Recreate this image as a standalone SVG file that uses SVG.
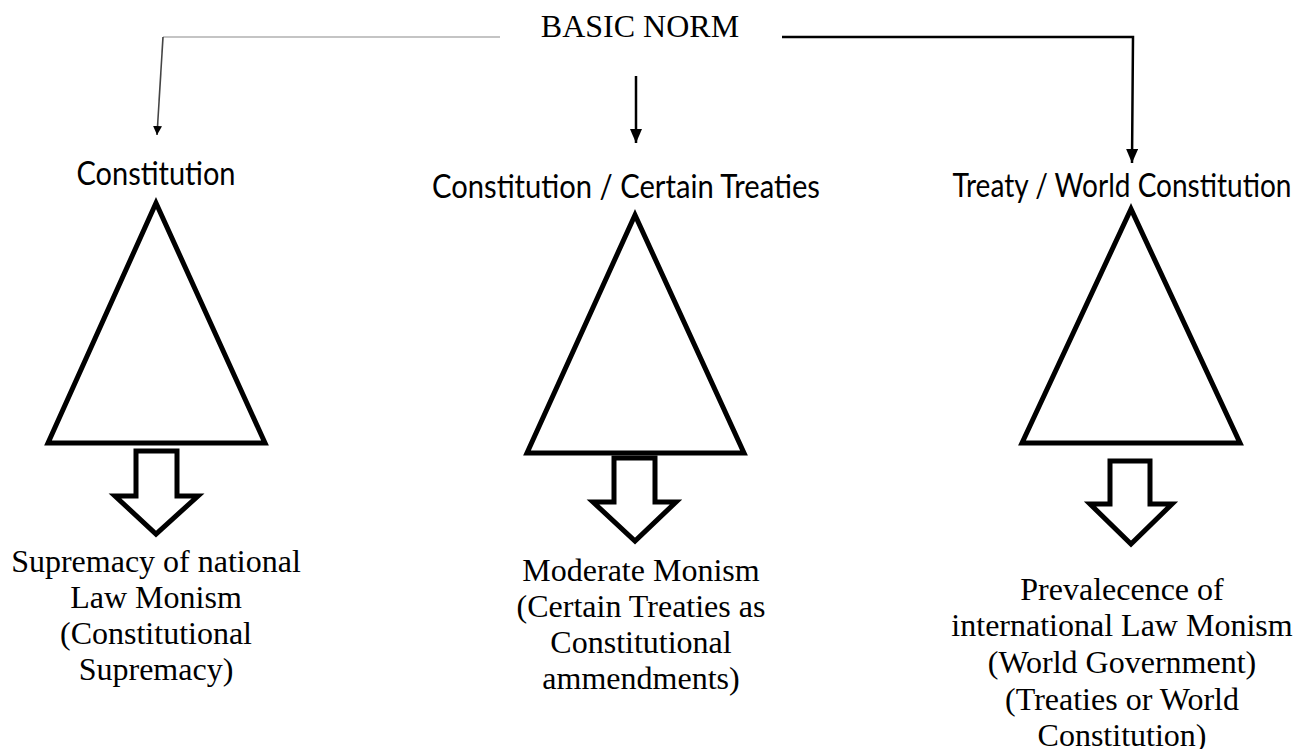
<svg xmlns="http://www.w3.org/2000/svg" width="1306" height="749" viewBox="0 0 1306 749">
<style>
.serif{font-family:"Liberation Serif","Times New Roman",serif;font-size:32px;fill:#000;text-anchor:middle}
.sans{font-family:Lato,"Liberation Sans",sans-serif;font-size:32px;fill:#000;text-anchor:middle}
.tri{fill:#fff;stroke:#000;stroke-width:5;stroke-linejoin:miter}
.blk{fill:#fff;stroke:#000;stroke-width:5;stroke-linejoin:miter}
.con{fill:none;stroke:#000;stroke-width:2.5}
</style>
<defs>
<marker id="ah" viewBox="0 0 14 12" refX="14" refY="6" markerWidth="14" markerHeight="12" orient="auto" markerUnits="userSpaceOnUse"><path d="M0,0 L14,6 L0,12 z" fill="#000"/></marker>
<marker id="ahs" viewBox="0 0 9 9" refX="9" refY="4.5" markerWidth="9" markerHeight="9" orient="auto" markerUnits="userSpaceOnUse"><path d="M0,0 L9,4.5 L0,9 z" fill="#000"/></marker>
</defs>
<rect width="1306" height="749" fill="#fff"/>
<g id="connectors">
<line x1="500" y1="37" x2="163" y2="37" stroke="#c4c4c4" stroke-width="2"/>
<line x1="163" y1="37" x2="157" y2="135" stroke="#444" stroke-width="1.6" marker-end="url(#ahs)"/>
<line x1="636" y1="76" x2="636" y2="143" class="con" marker-end="url(#ah)"/>
<polyline points="782,37 1133,37 1132,163" class="con" marker-end="url(#ah)"/>
</g>
<g id="basic-norm"><text x="640" y="37" class="serif">BASIC NORM</text></g>
<g id="col-left">
<text x="156" y="185" class="sans" textLength="159" lengthAdjust="spacingAndGlyphs">Constitution</text>
<polygon class="tri" points="156,203 48,443 265,443"/>
<polygon class="blk" points="136,451 177,451 177,496 198,496 156,534 115,496 136,496"/>
<text class="serif" x="156" y="572">Supremacy of national</text>
<text class="serif" x="156" y="608">Law Monism</text>
<text class="serif" x="156" y="644">(Constitutional</text>
<text class="serif" x="156" y="680">Supremacy)</text>
</g>
<g id="col-middle">
<text x="626" y="198" class="sans" textLength="388" lengthAdjust="spacingAndGlyphs">Constitution / Certain Treaties</text>
<polygon class="tri" points="635,215 527,453 744,453"/>
<polygon class="blk" points="614,458 655,458 655,502 676,502 635,541 593,502 614,502"/>
<text class="serif" x="641" y="581">Moderate Monism</text>
<text class="serif" x="641" y="617">(Certain Treaties as</text>
<text class="serif" x="641" y="653">Constitutional</text>
<text class="serif" x="641" y="689">ammendments)</text>
</g>
<g id="col-right">
<text x="1122" y="197" class="sans" textLength="339" lengthAdjust="spacingAndGlyphs">Treaty / World Constitution</text>
<polygon class="tri" points="1131,209 1022,443 1240,443"/>
<polygon class="blk" points="1110,461 1150,461 1150,504 1172,504 1131,544 1090,504 1110,504"/>
<text class="serif" x="1122" y="600">Prevalecence of</text>
<text class="serif" x="1122" y="636">international Law Monism</text>
<text class="serif" x="1122" y="673">(World Government)</text>
<text class="serif" x="1122" y="710">(Treaties or World</text>
<text class="serif" x="1122" y="746">Constitution)</text>
</g>
</svg>
